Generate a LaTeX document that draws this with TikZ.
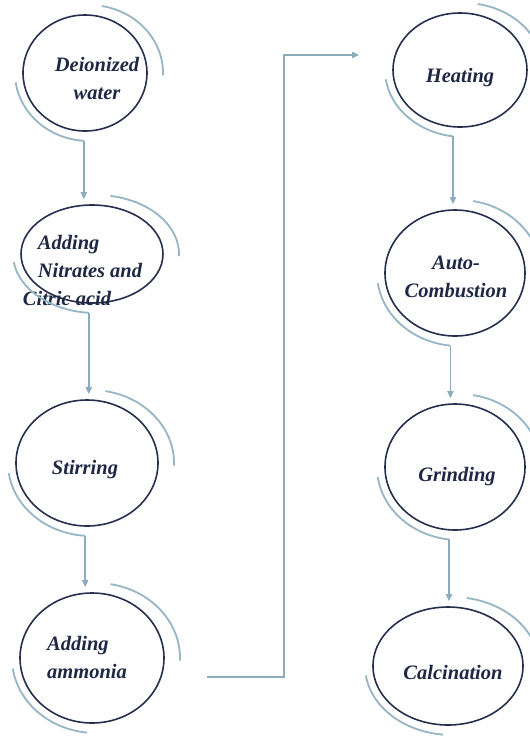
\documentclass[tikz,border=0pt]{standalone}
\usepackage{fontspec}
\setmainfont{Liberation Serif}
\usetikzlibrary{shapes.geometric,arrows.meta,calc}
\definecolor{ringc}{RGB}{150,182,196}
\definecolor{arrc}{RGB}{140,172,188}
\definecolor{edgec}{RGB}{38,48,78}
\definecolor{txtc}{RGB}{30,40,68}
\tikzset{
 stepell/.style={ellipse, draw=edgec, line width=1.6pt, inner sep=0pt},
 ring/.style={draw=ringc, line width=1.8pt},
 lbl/.style={text=txtc, font=\fontsize{20.5}{28}\selectfont\bfseries\itshape, align=center, inner sep=0pt},
 flow/.style={draw=arrc, line width=1.6pt, -{Triangle[length=7pt,width=6pt]}},
}
\newcommand{\stepring}[4]{%
 \draw[ring] ($(#1.center)+(4,0)$) ++(80:#2pt and #3pt) arc[start angle=80, end angle=-2, x radius=#2pt, y radius=#3pt];
 \draw[ring] ($(#1.center)+(4,0)$) ++(188:#2pt and #3pt) arc[start angle=188, end angle=#4, x radius=#2pt, y radius=#3pt] coordinate (#1b);
}
\begin{document}
\begin{tikzpicture}[x=1pt,y=1pt]
\useasboundingbox (0,0) rectangle (530,-740);
\fill[white] (0,0) rectangle (530,-740);

% left column
\node[stepell, minimum width=124pt, minimum height=116pt] (n1) at (85,-73) {};
\node[lbl] (t1) at (97,-78) {Deionized\\water};
\stepring{n1}{74}{68}{266}

\node[stepell, minimum width=142pt, minimum height=98pt] (n2) at (92,-254) {};
\node[lbl, align=left] (t2) at (90,-270) {Adding\\Nitrates and\\\hspace*{-15pt}Citric acid};
\stepring{n2}{83}{59}{265}

\node[stepell, minimum width=142pt, minimum height=126pt] (n3) at (87,-463) {};
\node[lbl] (t3) at (85,-470) {Stirring};
\stepring{n3}{83}{73}{266}

\node[stepell, minimum width=144pt, minimum height=130pt] (n4) at (92,-658) {};
\node[lbl, align=left] (t4) at (87,-657) {Adding\\ammonia};
\stepring{n4}{84}{75}{264}

% right column
\node[stepell, minimum width=134pt, minimum height=114pt] (n5) at (460,-70) {};
\node[lbl] (t5) at (460,-78) {Heating};
\stepring{n5}{79}{67}{262}

\node[stepell, minimum width=140pt, minimum height=126pt] (n6) at (455,-273) {};
\node[lbl] (t6) at (456,-277) {Auto-\\Combustion};
\stepring{n6}{82}{73}{264}

\node[stepell, minimum width=140pt, minimum height=126pt] (n7) at (455,-467) {};
\node[lbl] (t7) at (457,-477) {Grinding};
\stepring{n7}{82}{73}{263}

\node[stepell, minimum width=150pt, minimum height=118pt] (n8) at (448,-666) {};
\node[lbl] (t8) at (453,-672) {Calcination};
\stepring{n8}{87}{69}{264}

% connectors
\draw[flow] (n1b) -- ([yshift=5pt]n1b |- n2.north);
\draw[flow] (n2b) -- ([yshift=5pt]n2b |- n3.north);
\draw[flow] (n3b) -- ([yshift=5pt]n3b |- n4.north);
\draw[flow] (n5b) -- ([yshift=5pt]n5b |- n6.north);
\draw[flow] (n6b) -- ([yshift=5pt]n6b |- n7.north);
\draw[flow] (n7b) -- ([yshift=5pt]n7b |- n8.north);

\coordinate (c0) at (207,-677);
\coordinate (c1) at (284,-677);
\coordinate (c2) at ([shift={(-33,15)}]n5.west);
\draw[flow] (c0) -- (c1) |- (c2);
\end{tikzpicture}
\end{document}
